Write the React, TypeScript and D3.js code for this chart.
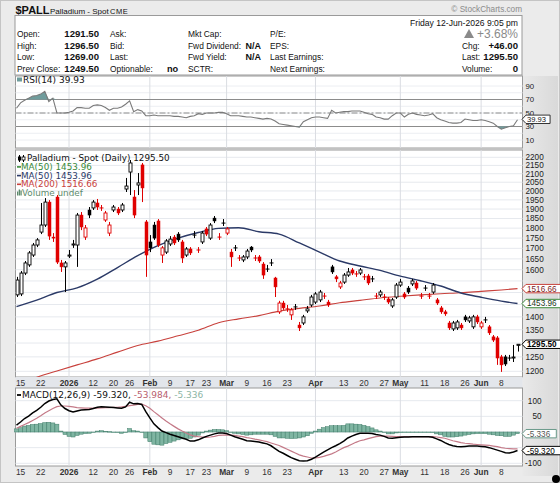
import React from "react";
import * as d3 from "d3";

// ---------------- data ----------------
const FIRST_DAY = "2025-12-12";
const LAST_DAY = "2026-06-12";
const HOLIDAYS = ["2025-12-25", "2026-01-01", "2026-01-19", "2026-02-16", "2026-04-03", "2026-05-25"];

const OPEN = [1490,1494,1585,1622,1668,1716,1780,1816,1938,1755,1966,1631,1613,1663,1716,1716,1868,1755,1895,1906,
1933,1906,1842,1775,1895,1900,1895,2011,2110,1966,2034,2153,1832,1731,1816,1837,1668,1682,1721,1755,
1770,1731,1668,1697,1765,1692,1731,1796,1750,1852,1755,1826,1775,1682,1702,1654,1645,1659,1706,1654,
1659,1626,1603,1631,1563,1420,1456,1432,1408,1440,1368,1376,1424,1448,1460,1469,1485,1460,1613,1568,
1524,1545,1576,1599,1581,1585,1568,1572,1559,1485,1490,1481,1473,1444,1481,1532,1494,1519,1537,1541,
1485,1519,1485,1502,1469,1436,1420,1376,1353,1357,1368,1400,1384,1361,1400,1361,1388,1361,1323,1319,
1250,1250,1246,1248,1291.5];
const HIGH = [1568,1594,1640,1687,1726,1750,1933,1960,1949,1775,1977,1645,1640,1692,1741,1879,1884,1816,1911,1949,
1955,1922,1890,1832,1922,1911,1933,2075,2183,2005,2104,2165,1842,1765,1832,1847,1711,1745,1760,1765,
1780,1741,1706,1706,1785,1706,1785,1806,1826,1863,1775,1847,1806,1697,1716,1668,1668,1697,1711,1668,
1668,1635,1622,1649,1568,1465,1465,1448,1436,1452,1380,1408,1444,1490,1502,1511,1498,1469,1622,1576,
1550,1585,1608,1608,1594,1608,1581,1581,1572,1498,1511,1494,1481,1477,1541,1559,1502,1528,1559,1550,
1498,1532,1498,1541,1477,1444,1428,1384,1384,1388,1376,1408,1404,1408,1408,1384,1400,1368,1330,1326,
1257,1257,1257,1293,1296.5];
const LOW = [1481,1485,1576,1613,1659,1706,1770,1806,1741,1731,1626,1590,1502,1654,1702,1613,1790,1741,1852,1895,
1895,1890,1832,1760,1884,1868,1884,1994,1977,1852,1977,1938,1568,1682,1741,1706,1631,1673,1711,1716,
1731,1631,1659,1668,1750,1678,1721,1760,1741,1826,1741,1811,1765,1613,1687,1640,1635,1649,1682,1640,
1631,1559,1590,1617,1481,1412,1428,1420,1388,1428,1345,1368,1416,1440,1452,1460,1473,1440,1581,1545,
1515,1537,1568,1576,1568,1576,1554,1532,1545,1473,1481,1469,1452,1436,1473,1524,1473,1494,1528,1511,
1473,1507,1473,1494,1448,1412,1404,1349,1345,1349,1349,1380,1376,1353,1372,1353,1376,1330,1304,1222,
1198,1218,1236,1232,1269];
const CLOSE = [1554,1585,1631,1678,1716,1741,1816,1938,1760,1750,1635,1613,1631,1668,1721,1868,1806,1801,1868,1938,
1911,1906,1879,1816,1911,1879,1922,2028,2165,1868,2046,2017,1668,1702,1750,1716,1702,1736,1745,1726,
1741,1654,1697,1678,1765,1692,1775,1770,1816,1837,1755,1826,1796,1659,1702,1654,1659,1687,1692,1654,
1640,1576,1603,1631,1524,1456,1436,1432,1428,1440,1357,1400,1432,1481,1494,1502,1485,1448,1590,1559,
1541,1576,1590,1585,1581,1599,1568,1541,1559,1485,1502,1481,1460,1469,1532,1545,1481,1502,1550,1519,
1485,1519,1485,1532,1456,1420,1412,1357,1376,1380,1357,1388,1396,1400,1380,1376,1388,1338,1311,1246,
1222,1225,1246,1249.5,1295.5];

// moving averages read every 5th trading day (last point = last day)
const MA_STEP = 5;
const MA50 = [1441,1468,1500,1520,1558,1610,1665,1713,1750,1778,1799,1802,1782,1770,1726,1682,1640,1617,1597,1571,1551,1528,1498,1480,1464,1453.96];
const MA200 = [1158,1180,1201,1222,1243,1267,1291,1307,1327,1348,1377,1392,1405,1423,1434,1444,1457,1467,1477,1484,1490,1495,1499,1505,1511,1516.66];

const RSI = [57,65,69,72,75,76,78,82,67,72,50,50,50,51,53,58,58,57,57,61,
62,61,58,54,57,57,59,63,68,52,55,53,46,46,47,46,46,46,46,45,
45,44,43,45,46,49,48,50,50,50,51,51,49,46,46,46,45,44,44,43,
42,41,42,41,38,34,33,32,31,30,29,37,40,43,44,44,43,42,54,50,
51,52,52,53,53,53,51,49,48,44,43,41,41,46,50,50,44,48,50,48,
47,46,47,49,43,40,38,36,35,35,36,41,40,39,39,40,39,37,35,30,
26,28,30,31,39.93];
const MACD = [22,32,43,51,61,69,79,91,99,104,106,86,75,68,64,67,70,71,72,75,
79,81,80,79,78,77,76,80,95,90,91,88,65,45,26,14,3,-2,-7,-11,
-15,-19,-23,-29,-29,-25,-19,-14,-10,-6,-3,-3,-5,-10,-15,-19,-23,-28,-29,-30,
-32,-35,-38,-44,-53,-62,-68,-75,-82,-87,-92,-93,-92,-87,-80,-72,-64,-57,-50,-44,
-37,-29,-19,-13,-8,-4,-4,-4,-5,-8,-10,-14,-19,-20,-18,-17,-16,-16,-15,-15,
-15,-15,-15,-17,-22,-27,-34,-40,-44,-46,-47,-46,-45,-45,-45,-46,-47,-50,-54,-58,
-62,-66,-67,-64,-59.32];
const SIGNAL = [12,18,24,30,37,44,52,61,68,75,81,83,83,82,80,78,77,76,76,76,
76,77,78,78,79,79,80,82,84,86,88,89,84,76,65,55,45,35,26,18,
10,3,-3,-9,-13,-15,-16,-17,-16,-14,-11,-10,-9,-10,-11,-13,-15,-18,-20,-23,
-25,-28,-31,-35,-39,-43,-49,-55,-61,-67,-73,-77,-80,-83,-83,-81,-78,-74,-70,-64,
-57,-50,-45,-39,-33,-28,-25,-21,-18,-15,-13,-13,-13,-14,-15,-15,-15,-15,-15,-15,
-15,-15,-15,-15,-16,-18,-20,-24,-28,-31,-34,-36,-37,-39,-40,-41,-42,-43,-45,-47,
-50,-52,-53,-54,-53.984];

const PRICE_TICKS = [1200,1250,1300,1350,1400,1450,1500,1550,1600,1650,1700,1750,1800,1850,1900,1950,2000,2050,2100,2150,2200];
const RSI_TICKS = [10,30,50,70,90];
const RSI_GRID = [10,20,30,40,50,60,70,80,90];
const MACD_TICKS = [-100,-50,0,50,100];
const DATE_TICKS = ["2025-12-15","2025-12-22","2026-01-02","2026-01-12","2026-01-20","2026-01-26","2026-02-02","2026-02-09","2026-02-17","2026-02-23","2026-03-02","2026-03-09","2026-03-16","2026-03-23","2026-04-01","2026-04-13","2026-04-20","2026-04-27","2026-05-01","2026-05-11","2026-05-18","2026-05-26","2026-06-01","2026-06-08"];
const DATE_LABELS = ["15","22","2026","12","20","26","Feb","9","17","23","Mar","9","16","23","Apr","13","20","27","May","11","18","26","Jun","8"];
const MONTH_STARTS = ["2026-01-02","2026-02-02","2026-03-02","2026-04-01","2026-05-01","2026-06-01"];

const LAST_VALUES = { ma200: 1516.66, ma50: 1453.96, last: 1295.5, rsi: 39.93, macd: -59.32, signal: -53.984, hist: -5.336 };

// ---------------- layout ----------------
const W = 560, H = 483;
const PL = 15.5, PR = 522.5;
const RSI_TOP = 76, RSI_BOT = 148;
const MAIN_TOP = 150, MAIN_BOT = 377;
const MACD_TOP = 388, MACD_BOT = 466;
const SANS = "'Liberation Sans', Arial, sans-serif";
const VERD = "'DejaVu Sans', Verdana, sans-serif";
const RED = "#e00000";

const fmt = d3.timeFormat("%Y-%m-%d");
const parse = d3.timeParse("%Y-%m-%d");
const DAYS = d3.timeDay
  .range(parse(FIRST_DAY)!, d3.timeDay.offset(parse(LAST_DAY)!, 1))
  .filter((d) => d.getDay() !== 0 && d.getDay() !== 6 && !HOLIDAYS.includes(fmt(d)))
  .map(fmt);

const x = d3.scalePoint<string>().domain(DAYS).range([16.5, 517.5]);
const y = d3.scaleLog().domain([1200, 2200]).range([371.3, 157.3]);
const yr = d3.scaleLinear().domain([0, 100]).range([146.75, 79.25]);
const ym = d3.scaleLinear().domain([-100, 100]).range([463.3, 400.7]);

function Tag({ yy, text, stroke, color, bold, fs = 8.2 }: { yy: number; text: string; stroke: string; color: string; bold?: boolean; fs?: number }) {
  const w = text.length * fs * 0.555 + 7;
  const x0 = 522;
  const hh = 4.2;
  const p = `M${x0},${yy} L${x0 + 4},${yy - hh} L${x0 + w},${yy - hh} L${x0 + w},${yy + hh} L${x0 + 4},${yy + hh} Z`;
  return (
    <g>
      <path d={p} fill="#fff" stroke={stroke} strokeWidth={1} />
      <text x={x0 + 5} y={yy + fs * 0.36} fontSize={fs} fontFamily={SANS} fill={color} fontWeight={bold ? "bold" : "normal"}>{text}</text>
    </g>
  );
}

export default function App() {
  const maIdx = (k: number) => Math.min(k * MA_STEP, DAYS.length - 1);
  const maLine = d3.line<number>().x((_, k) => x(DAYS[maIdx(k)])!).y((v) => y(v)).curve(d3.curveMonotoneX);
  const rsiLine = d3.line<number>().x((_, i) => x(DAYS[i])!).y((v) => yr(v));
  const rsiHi = d3.area<number>().x((_, i) => x(DAYS[i])!).y0(yr(70)).y1((v) => yr(Math.max(v, 70)));
  const rsiLo = d3.area<number>().x((_, i) => x(DAYS[i])!).y0(yr(30)).y1((v) => yr(Math.min(v, 30)));
  const macdLine = d3.line<number>().x((_, i) => x(DAYS[i])!).y((v) => ym(v));
  const hist = MACD.map((m, i) => m - SIGNAL[i]);

  const monthX = MONTH_STARTS.map((d) => x(d)!);
  const priceTags = [LAST_VALUES.ma200, LAST_VALUES.ma50, LAST_VALUES.last].map((v) => y(v));
  const macdTags = [LAST_VALUES.hist, LAST_VALUES.macd].map((v) => ym(v));
  const priceLabels = PRICE_TICKS.filter((v) => priceTags.every((t) => Math.abs(y(v) - t) > 8));
  const macdLabels = MACD_TICKS.filter((v) => macdTags.every((t) => Math.abs(ym(v) - t) > 8));
  const LG = [161.2, 169.9, 178.6, 187.3, 196.0];

  return (
    <svg width={W} height={H} style={{ position: "absolute", left: 0, top: 0 }} xmlns="http://www.w3.org/2000/svg">
      <defs>
        <clipPath id="mainClip"><rect x={PL} y={MAIN_TOP} width={PR - PL} height={MAIN_BOT - MAIN_TOP} /></clipPath>
        <linearGradient id="axisBg" x1="0" x2="1" y1="0" y2="0">
          <stop offset="0" stopColor="#e9e9e9" />
          <stop offset="1" stopColor="#d9d9d9" />
        </linearGradient>
      </defs>
      <rect x={0} y={0} width={W} height={H} fill="#ebebeb" />
      <rect x={PR} y={RSI_TOP} width={W - PR - 2} height={MACD_BOT - RSI_TOP + 10} fill="url(#axisBg)" />
      <rect x={0.5} y={0.5} width={W - 1} height={H - 1} fill="none" stroke="#c4c4c4" />

      {/* title */}
      <text x={15.5} y={14} fontFamily={SANS} fontSize={11} fontWeight="bold" fill="#111">$PALL</text>
      <text x={50} y={13.5} fontFamily={SANS} fontSize={8} fill="#111">Palladium - Spot</text>
      <text x={110} y={13.5} fontFamily={SANS} fontSize={7.5} fill="#111" letterSpacing={0.5}>CME</text>
      <text x={522} y={11.5} fontFamily={SANS} fontSize={8.2} fill="#8a8a8a" textAnchor="end">© StockCharts.com</text>

      {/* header box */}
      <rect x={15} y={15.5} width={507} height={59.5} fill="#fff" stroke="#9a9a9a" />
      <g fontFamily={SANS} fontSize={8.4} fill="#111">
        <text x={17} y={37}>Open:</text>
        <text x={17} y={48.5}>High:</text>
        <text x={17} y={60}>Low:</text>
        <text x={17} y={71.5}>Prev Close:</text>
        <g fontWeight="bold" fontSize={9.6} textAnchor="end">
          <text x={99} y={37.3}>1291.50</text>
          <text x={99} y={48.8}>1296.50</text>
          <text x={99} y={60.3}>1269.00</text>
          <text x={99} y={71.8}>1249.50</text>
        </g>
        <text x={110} y={37}>Ask:</text>
        <text x={110} y={48.5}>Bid:</text>
        <text x={110} y={60}>Last:</text>
        <text x={110} y={71.5}>Optionable:</text>
        <text x={167} y={71.8} fontWeight="bold" fontSize={9.2}>no</text>
        <text x={188} y={37}>Mkt Cap:</text>
        <text x={188} y={48.5}>Fwd Dividend:</text>
        <text x={188} y={60}>Fwd Yield:</text>
        <text x={188} y={71.5}>SCTR:</text>
        <text x={261} y={48.8} fontWeight="bold" fontSize={9} textAnchor="end">N/A</text>
        <text x={261} y={60.3} fontWeight="bold" fontSize={9} textAnchor="end">N/A</text>
        <text x={270} y={37}>P/E:</text>
        <text x={270} y={48.5}>EPS:</text>
        <text x={270} y={60}>Last Earnings:</text>
        <text x={270} y={71.5}>Next Earnings:</text>
        <text x={518} y={26} textAnchor="end" fontSize={8.6}>Friday  12-Jun-2026  9:05 pm</text>
        <text x={462} y={48.5}>Chg:</text>
        <text x={462} y={60}>Last:</text>
        <text x={462} y={71.5}>Volume:</text>
        <g fontWeight="bold" fontSize={9.6} textAnchor="end">
          <text x={518} y={48.8}>+46.00</text>
          <text x={518} y={60.3}>1295.50</text>
          <text x={518} y={71.8}>0</text>
        </g>
      </g>
      <path d="M464,38 L469,29 L474,38 Z" fill="#8a8a8a" />
      <text x={518} y={38} textAnchor="end" fontFamily={SANS} fontSize={12} fill="#8a8a8a">+3.68%</text>

      {/* ---------- RSI panel ---------- */}
      <rect x={PL} y={RSI_TOP} width={PR - PL} height={RSI_BOT - RSI_TOP} fill="#fff" stroke="#9a9a9a" />
      {RSI_GRID.map((v) => (
        <line key={v} x1={PL} x2={PR} y1={yr(v)} y2={yr(v)} stroke="#eceef2" />
      ))}
      {monthX.map((mx, i) => (
        <line key={i} x1={mx} x2={mx} y1={RSI_TOP} y2={RSI_BOT} stroke="#dadde2" />
      ))}
      <line x1={PL} x2={PR} y1={yr(70)} y2={yr(70)} stroke="#8c8c8c" />
      <line x1={PL} x2={PR} y1={yr(30)} y2={yr(30)} stroke="#8c8c8c" />
      <line x1={PL} x2={PR} y1={yr(50)} y2={yr(50)} stroke="#8c8c8c" strokeDasharray="6,2,2,2" />
      <path d={rsiHi(RSI)!} fill="#6f9c9c" />
      <path d={rsiLo(RSI)!} fill="#6f9c9c" />
      <path d={rsiLine(RSI)!} fill="none" stroke="#7a7a7a" strokeWidth={1.1} />
      <rect x={17} y={77.5} width={5} height={4} fill="#6f9c9c" />
      <text x={23} y={82.5} fontFamily={VERD} fontSize={9} fill="#111">RSI(14) 39.93</text>
      {RSI_TICKS.map((v) => (
        <text key={v} x={525.5} y={yr(v) + 2.8} fontFamily={SANS} fontSize={7.8} fill="#222">{v}</text>
      ))}
      <Tag yy={yr(LAST_VALUES.rsi) - 0.5} text="39.93" stroke="#333" color="#111" fs={7.6} />

      {/* ---------- main panel ---------- */}
      <rect x={PL} y={MAIN_TOP} width={PR - PL} height={MAIN_BOT - MAIN_TOP} fill="#fff" stroke="#9a9a9a" />
      {PRICE_TICKS.map((v) => (
        <line key={v} x1={PL} x2={PR} y1={y(v)} y2={y(v)} stroke="#e6e9ee" />
      ))}
      {monthX.map((mx, i) => (
        <line key={i} x1={mx} x2={mx} y1={MAIN_TOP} y2={MAIN_BOT} stroke="#dadde2" />
      ))}
      <g clipPath="url(#mainClip)">
        <path d={maLine(MA200)!} fill="none" stroke="#c8413c" strokeWidth={1.1} />
        <path d={maLine(MA50)!} fill="none" stroke="#2b3a67" strokeWidth={1.4} />
        {DAYS.map((d, i) => {
          const o = OPEN[i], c = CLOSE[i], h = HIGH[i], l = LOW[i];
          const up = i === 0 || c >= CLOSE[i - 1];
          const col = up ? "#000" : RED;
          const cx = Math.round(x(d)!) + 0.5;
          const yT = y(Math.max(o, c)), yB = y(Math.min(o, c));
          const hollow = c > o;
          return (
            <g key={d}>
              <line x1={cx} x2={cx} y1={y(h)} y2={y(l)} stroke={col} strokeWidth={1} />
              {o === c ? (
                <line x1={cx - 2} x2={cx + 2} y1={y(c)} y2={y(c)} stroke={col} strokeWidth={1} />
              ) : (
                <rect x={cx - 1.5} y={yT} width={3} height={Math.max(yB - yT, 1)} fill={hollow ? "#fff" : col} stroke={col} strokeWidth={hollow ? 0.9 : 0.5} />
              )}
            </g>
          );
        })}
      </g>
      {/* legend */}
      <g fontFamily={VERD} fontSize={8.8}>
        <line x1={19.5} x2={19.5} y1={155} y2={162} stroke="#000" />
        <rect x={18} y={156.5} width={3} height={4} fill="#000" />
        <line x1={23.5} x2={23.5} y1={155} y2={162} stroke="#000" />
        <rect x={22} y={157} width={3} height={3} fill="#fff" stroke="#000" strokeWidth={0.8} />
        <text x={27} y={LG[0]} fill="#111">Palladium - Spot (Daily) 1295.50</text>
        <line x1={17} x2={21} y1={LG[1] - 3} y2={LG[1] - 3} stroke="#3a8a3a" strokeWidth={1.6} />
        <text x={21} y={LG[1]} fill="#3a8a3a">MA(50) 1453.96</text>
        <line x1={17} x2={21} y1={LG[2] - 3} y2={LG[2] - 3} stroke="#2b3a67" strokeWidth={1.6} />
        <text x={21} y={LG[2]} fill="#2b3a67">MA(50) 1453.96</text>
        <line x1={17} x2={21} y1={LG[3] - 3} y2={LG[3] - 3} stroke="#c8413c" strokeWidth={1.6} />
        <text x={21} y={LG[3]} fill="#c8413c">MA(200) 1516.66</text>
        <rect x={17} y={LG[4] - 4.5} width={1.3} height={4} fill="#5c8a6c" />
        <rect x={18.7} y={LG[4] - 6.5} width={1.3} height={6} fill="#5c8a6c" />
        <rect x={20.4} y={LG[4] - 5.5} width={1.3} height={5} fill="#5c8a6c" />
        <text x={22} y={LG[4]} fill="#5c8a6c">Volume undef</text>
      </g>
      {priceLabels.map((v) => (
        <text key={v} x={525.5} y={y(v) + 3} fontFamily={SANS} fontSize={8.2} fill="#222">{v}</text>
      ))}
      <Tag yy={y(LAST_VALUES.ma200)} text="1516.66" stroke="#c8413c" color="#7a1c1c" />
      <Tag yy={y(LAST_VALUES.ma50)} text="1453.96" stroke="#3a8a3a" color="#1a3a1a" />
      <Tag yy={y(LAST_VALUES.last)} text="1295.50" stroke="#000" color="#000" bold />

      {/* date labels between panels */}
      <rect x={PL} y={MAIN_BOT} width={PR - PL} height={MACD_TOP - MAIN_BOT} fill="#e3e6eb" />
      {DATE_TICKS.map((d, i) => (
        <text key={"a" + i} x={x(d)!} y={MAIN_BOT + 9} textAnchor="middle" fontFamily={SANS} fontSize={8.4}
          fontWeight={MONTH_STARTS.includes(d) ? "bold" : "normal"} fill="#333">{DATE_LABELS[i]}</text>
      ))}

      {/* ---------- MACD panel ---------- */}
      <rect x={PL} y={MACD_TOP} width={PR - PL} height={MACD_BOT - MACD_TOP} fill="#fff" stroke="#9a9a9a" />
      {MACD_TICKS.map((v) => (
        <line key={v} x1={PL} x2={PR} y1={ym(v)} y2={ym(v)} stroke="#e6e9ee" />
      ))}
      {monthX.map((mx, i) => (
        <line key={i} x1={mx} x2={mx} y1={MACD_TOP} y2={MACD_BOT} stroke="#dadde2" />
      ))}
      {hist.map((h, i) => {
        const cx = x(DAYS[i])!;
        const y0 = ym(0), y1 = ym(h);
        return <rect key={i} x={cx - 2} y={Math.min(y0, y1)} width={4} height={Math.max(Math.abs(y1 - y0), 0.5)} fill="#7fb5a2" stroke="#3f7c68" strokeWidth={0.5} />;
      })}
      <path d={macdLine(SIGNAL)!} fill="none" stroke="#c47a88" strokeWidth={1.2} />
      <path d={macdLine(MACD)!} fill="none" stroke="#000" strokeWidth={1.5} />
      <line x1={17} x2={21} y1={395} y2={395} stroke="#000" strokeWidth={1.8} />
      <text x={22} y={398} fontFamily={VERD} fontSize={9} fill="#111">
        MACD(12,26,9) -59.320, <tspan fill="#b8606e">-53.984,</tspan> <tspan fill="#8db5a5">-5.336</tspan>
      </text>
      {macdLabels.map((v) => (
        <text key={v} x={541.5} y={ym(v) + 3} textAnchor="end" fontFamily={SANS} fontSize={8.2} fill="#222">{v}</text>
      ))}
      <Tag yy={ym(LAST_VALUES.hist)} text="-5.336" stroke="#6a9a8a" color="#555" />
      <Tag yy={ym(LAST_VALUES.macd)} text="-59.320" stroke="#000" color="#000" />
      {DATE_TICKS.map((d, i) => (
        <text key={"b" + i} x={x(d)!} y={MACD_BOT + 9} textAnchor="middle" fontFamily={SANS} fontSize={8.4}
          fontWeight={MONTH_STARTS.includes(d) ? "bold" : "normal"} fill="#333">{DATE_LABELS[i]}</text>
      ))}
      <circle cx={556} cy={479} r={4} fill="#000" />
    </svg>
  );
}
